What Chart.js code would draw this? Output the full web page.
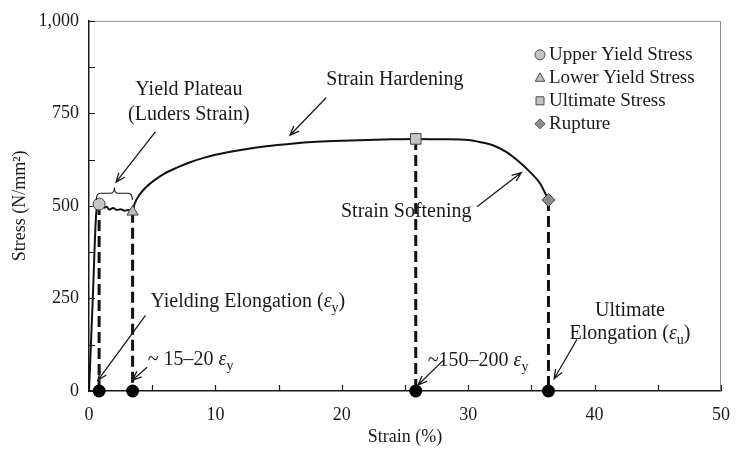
<!DOCTYPE html>
<html>
<head>
<meta charset="utf-8">
<script src="https://cdn.jsdelivr.net/npm/chart.js@4.4.1/dist/chart.umd.min.js"></script>
<style>
  html, body { margin: 0; padding: 0; background: #fff; }
  #wrap { width: 743px; height: 449px; }
</style>
</head>
<body>
<div id="wrap"><canvas id="c" width="743" height="449"></canvas></div>
<script>
// Engineering stress-strain record of a mild steel coupon
const strain = [0, 0.3, 0.55, 0.7, 0.8, 1.0, 1.2, 1.4, 1.6, 1.9, 2.2, 2.5, 2.8, 3.1, 3.45,
  3.6, 4.0, 4.5, 5, 6, 7, 8, 9, 10, 12, 14, 16, 18, 20, 22, 24, 25.85,
  28, 30, 31, 32, 33, 34, 35, 35.7, 36.35];
const stress = [0, 250, 470, 503, 505, 501, 495, 498, 490, 494, 489, 491, 487, 489, 484,
  505, 530, 550, 565, 588, 604, 618, 629, 638, 651, 661, 668, 673, 676, 678, 680, 681,
  680, 678, 672, 663, 646, 620, 588, 560, 516];

// Key points: upper yield, lower yield, ultimate, rupture
const keyNames = ['Upper Yield Stress', 'Lower Yield Stress', 'Ultimate Stress', 'Rupture'];
const keyStrain = [0.8, 3.45, 25.85, 36.35];
const keyStress = [505, 484, 681, 516];

const xTicks = [0, 10, 20, 30, 40, 50];
const yTicks = [0, 250, 500, 750, 1000];
const xMinor = [0, 5, 10, 15, 20, 25, 30, 35, 40, 45, 50];
const yMinor = [0, 125, 250, 375, 500, 625, 750, 875, 1000];

const SERIF = "'Liberation Serif', 'DejaVu Serif', serif";
const INK = '#1a1a1a';
const TICK_FS = 18;
const NOTE_FS = 20;
const KEY_FS = 19;

const markerStyle = [
  { style: 'circle',   fill: '#c4c4c4', r: 6 },
  { style: 'triangle', fill: '#bdbdbd', r: 6.5 },
  { style: 'rect',     fill: '#c4c4c4', r: 7.5 },
  { style: 'rectRot',  fill: '#8c8c8c', r: 6.5 }
];

// Text labels placed in data units: [strain, stress]
const notes = [
  { at: [7.9, 813], align: 'center', parts: [{ t: 'Yield Plateau' }] },
  { at: [7.9, 745], align: 'center', parts: [{ t: '(Luders Strain)' }] },
  { at: [24.2, 840], align: 'center', parts: [{ t: 'Strain Hardening' }] },
  { at: [25.1, 485], align: 'center', parts: [{ t: 'Strain Softening' }] },
  { at: [4.86, 240], align: 'left', parts: [{ t: 'Yielding Elongation (' }, { t: '\u03B5', it: true }, { t: 'y', sub: true }, { t: ')' }] },
  { at: [4.65, 84], align: 'left', parts: [{ t: '~ 15\u201320 ' }, { t: '\u03B5', it: true }, { t: 'y', sub: true }] },
  { at: [26.8, 82], align: 'left', parts: [{ t: '~150\u2013200 ' }, { t: '\u03B5', it: true }, { t: 'y', sub: true }] },
  { at: [42.8, 218], align: 'center', parts: [{ t: 'Ultimate' }] },
  { at: [42.8, 155], align: 'center', parts: [{ t: 'Elongation (' }, { t: '\u03B5', it: true }, { t: 'u', sub: true }, { t: ')' }] }
];

// Pointer arrows in data units: tail -> head
const pointers = [
  [[5.25, 700], [2.14, 564]],
  [[18.76, 792], [15.9, 691]],
  [[30.7, 498], [34.2, 590]],
  [[4.47, 204], [0.7, 29]],
  [[4.6, 64], [3.43, 29]],
  [[28.0, 82], [26.03, 16]],
  [[38.6, 139], [36.8, 33]]
];

// Brace over the yield plateau: [left strain, right strain, end stress, bar stress, tip stress]
const plateauBrace = [0.58, 3.43, 516, 534, 550];

function fontFor(p, size) {
  return (p.it ? 'italic ' : '') + (p.sub ? Math.round(size * 0.68) : size) + 'px ' + SERIF;
}
function richWidth(ctx, parts, size) {
  let w = 0;
  parts.forEach(p => { ctx.font = fontFor(p, size); w += ctx.measureText(p.t).width; });
  return w;
}
function drawRich(ctx, parts, x, y, align, size) {
  const w = richWidth(ctx, parts, size);
  let cx = align === 'center' ? x - w / 2 : (align === 'right' ? x - w : x);
  ctx.textAlign = 'left';
  ctx.textBaseline = 'middle';
  parts.forEach(p => {
    ctx.font = fontFor(p, size);
    ctx.fillText(p.t, cx, y + (p.sub ? size * 0.32 : 0));
    cx += ctx.measureText(p.t).width;
  });
}
function drawArrow(ctx, x1, y1, x2, y2) {
  const a = Math.atan2(y2 - y1, x2 - x1), L = 10, s = 0.38;
  ctx.beginPath();
  ctx.moveTo(x1, y1);
  ctx.lineTo(x2, y2);
  ctx.moveTo(x2 - L * Math.cos(a - s), y2 - L * Math.sin(a - s));
  ctx.lineTo(x2, y2);
  ctx.lineTo(x2 - L * Math.cos(a + s), y2 - L * Math.sin(a + s));
  ctx.stroke();
}
function drawMarker(ctx, style, x, y, r, fill) {
  ctx.save();
  ctx.fillStyle = fill;
  ctx.strokeStyle = '#4a4a4a';
  ctx.lineWidth = 1;
  ctx.beginPath();
  if (style === 'circle') {
    ctx.arc(x, y, r, 0, Math.PI * 2);
  } else if (style === 'triangle') {
    ctx.moveTo(x, y - r);
    ctx.lineTo(x + r * 0.95, y + r * 0.7);
    ctx.lineTo(x - r * 0.95, y + r * 0.7);
    ctx.closePath();
  } else if (style === 'rect') {
    ctx.rect(x - r * 0.8, y - r * 0.8, r * 1.6, r * 1.6);
  } else {
    ctx.moveTo(x, y - r); ctx.lineTo(x + r, y); ctx.lineTo(x, y + r); ctx.lineTo(x - r, y);
    ctx.closePath();
  }
  ctx.fill();
  ctx.stroke();
  ctx.restore();
}

const decor = {
  id: 'decor',
  beforeDatasetsDraw(chart) {
    const { ctx, chartArea: ca, scales: { x, y } } = chart;
    ctx.save();
    // gray frame on top and right
    ctx.strokeStyle = '#8a8a8a';
    ctx.lineWidth = 1;
    ctx.beginPath();
    ctx.moveTo(ca.left, ca.top + 0.5);
    ctx.lineTo(ca.right - 0.5, ca.top + 0.5);
    ctx.lineTo(ca.right - 0.5, ca.bottom);
    ctx.stroke();
    // inward tick marks
    ctx.strokeStyle = INK;
    ctx.lineWidth = 1.2;
    ctx.beginPath();
    xMinor.forEach(v => {
      const px = Math.round(x.getPixelForValue(v)) + 0.5;
      ctx.moveTo(px, ca.bottom); ctx.lineTo(px, ca.bottom - 6);
    });
    yMinor.forEach(v => {
      const py = Math.round(y.getPixelForValue(v)) + 0.5;
      ctx.moveTo(ca.left, py); ctx.lineTo(ca.left + 6, py);
    });
    ctx.stroke();
    ctx.restore();
  },
  afterDraw(chart) {
    const { ctx, chartArea: ca, scales: { x, y } } = chart;
    ctx.save();
    ctx.fillStyle = INK;
    ctx.strokeStyle = INK;
    ctx.lineWidth = 1.3;
    notes.forEach(n => drawRich(ctx, n.parts, x.getPixelForValue(n.at[0]), y.getPixelForValue(n.at[1]), n.align, NOTE_FS));
    pointers.forEach(([a, b]) => drawArrow(ctx,
      x.getPixelForValue(a[0]), y.getPixelForValue(a[1]),
      x.getPixelForValue(b[0]), y.getPixelForValue(b[1])));

    // brace above the plateau
    const [bl, br, be, bb, bt] = plateauBrace;
    const xl = x.getPixelForValue(bl), xr = x.getPixelForValue(br), xm = (xl + xr) / 2;
    const ye = y.getPixelForValue(be), yb = y.getPixelForValue(bb), yt = y.getPixelForValue(bt);
    const k = 4;
    ctx.lineWidth = 1.1;
    ctx.beginPath();
    ctx.moveTo(xl, ye);
    ctx.quadraticCurveTo(xl, yb, xl + k, yb);
    ctx.lineTo(xm - k, yb);
    ctx.quadraticCurveTo(xm, yb, xm, yt);
    ctx.quadraticCurveTo(xm, yb, xm + k, yb);
    ctx.lineTo(xr - k, yb);
    ctx.quadraticCurveTo(xr, yb, xr, ye);
    ctx.stroke();

    // key legend
    const lx = ca.left + 451, ly = ca.top + 34, gap = 23;
    keyNames.forEach((name, i) => {
      const m = markerStyle[i];
      drawMarker(ctx, m.style, lx, ly + i * gap, 5, m.fill);
      ctx.fillStyle = INK;
      drawRich(ctx, [{ t: name }], lx + 9, ly + i * gap, 'left', KEY_FS);
    });
    ctx.restore();
  }
};

const datasets = [];
// dashed drop lines from each key point to the strain axis
keyStrain.forEach((s, i) => datasets.push({
  data: [{ x: s, y: keyStress[i] }, { x: s, y: 0 }],
  showLine: true, borderColor: '#111', borderWidth: 3, borderDash: [11, 5],
  pointRadius: 0, order: 4, clip: false
}));
// the stress-strain curve
datasets.push({
  data: strain.map((s, i) => ({ x: s, y: stress[i] })),
  showLine: true, borderColor: '#111', borderWidth: 2, pointRadius: 0,
  cubicInterpolationMode: 'monotone', order: 3, clip: false
});
// key point markers
keyStrain.forEach((s, i) => datasets.push({
  data: [{ x: s, y: keyStress[i] }],
  pointStyle: markerStyle[i].style, pointRadius: markerStyle[i].r,
  backgroundColor: markerStyle[i].fill, borderColor: '#444', borderWidth: 1,
  order: 2, clip: false
}));
// strain readings on the axis
datasets.push({
  data: keyStrain.map(s => ({ x: s, y: 0 })),
  pointStyle: 'circle', pointRadius: 6.5, backgroundColor: '#000', borderColor: '#000',
  borderWidth: 0, order: 1, clip: false
});

new Chart(document.getElementById('c'), {
  type: 'scatter',
  data: { datasets },
  options: {
    responsive: false,
    animation: false,
    devicePixelRatio: 1,
    layout: { padding: { top: 13, right: 12, left: 0, bottom: 0 } },
    plugins: { legend: { display: false }, tooltip: { enabled: false } },
    scales: {
      x: {
        type: 'linear', min: 0, max: 50,
        afterBuildTicks: s => { s.ticks = xTicks.map(v => ({ value: v })); },
        afterFit: s => { s.height = 58; },
        ticks: { font: { family: SERIF, size: TICK_FS }, color: INK, padding: 13 },
        grid: { display: false, drawTicks: false, tickLength: 0 },
        border: { display: true, color: INK, width: 1.5 },
        title: { display: true, text: 'Strain (%)', font: { family: SERIF, size: TICK_FS }, color: INK, padding: { top: 0, bottom: 1 } }
      },
      y: {
        type: 'linear', min: 0, max: 1000,
        afterBuildTicks: s => { s.ticks = yTicks.map(v => ({ value: v })); },
        afterFit: s => { s.width = 89; },
        ticks: {
          font: { family: SERIF, size: TICK_FS }, color: INK, padding: 10,
          callback: v => v.toLocaleString('en-US')
        },
        grid: { display: false, drawTicks: false, tickLength: 0 },
        border: { display: true, color: INK, width: 1.5 },
        title: { display: true, text: 'Stress (N/mm\u00B2)', font: { family: SERIF, size: TICK_FS }, color: INK, padding: { top: 9, bottom: 0 } }
      }
    }
  },
  plugins: [decor]
});
</script>
</body>
</html>
